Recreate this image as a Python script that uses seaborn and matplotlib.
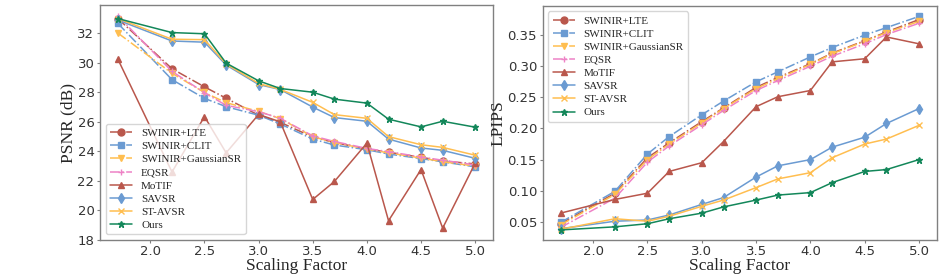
import matplotlib
matplotlib.use("Agg")
import matplotlib.pyplot as plt
import numpy as np
import pandas as pd
import seaborn as sns

scales = [1.7, 2.2, 2.5, 2.7, 3.0, 3.2, 3.5, 3.7, 4.0, 4.2, 4.5, 4.7, 5.0]
methods = ["SWINIR+LTE", "SWINIR+CLIT", "SWINIR+GaussianSR", "EQSR",
           "MoTIF", "SAVSR", "ST-AVSR", "Ours"]

# PSNR (dB)
psnr_lte = [33.0, 29.6, 28.37, 27.6, 26.45, 25.97, 24.97, 24.6, 24.16, 23.94, 23.6, 23.35, 23.15]
psnr_clit = [32.67, 28.86, 27.59, 27.03, 26.45, 25.86, 24.83, 24.43, 24.11, 23.82, 23.51, 23.29, 22.95]
psnr_gauss = [32.02, 29.29, 27.99, 27.3, 26.71, 26.22, 25.0, 24.6, 24.15, 23.9, 23.55, 23.3, 23.0]
psnr_eqsr = [33.18, 29.42, 27.97, 27.12, 26.69, 26.24, 25.05, 24.67, 24.2, 23.98, 23.62, 23.4, 23.08]
psnr_motif = [30.25, 22.6, 26.36, 23.9, 26.5, 26.0, 20.74, 21.96, 24.56, 19.3, 22.77, 18.8, 23.2]
psnr_savsr = [32.9, 31.48, 31.4, 29.85, 28.53, 28.19, 27.0, 26.29, 26.04, 24.83, 24.23, 24.07, 23.53]
psnr_stavsr = [33.0, 31.6, 31.57, 29.92, 28.6, 28.2, 27.32, 26.49, 26.24, 25.0, 24.45, 24.27, 23.74]
psnr_ours = [33.0, 32.05, 31.97, 29.98, 28.78, 28.26, 28.01, 27.54, 27.27, 26.18, 25.66, 26.04, 25.64]

# LPIPS
lpips_lte = [0.047, 0.096, 0.153, 0.177, 0.211, 0.233, 0.266, 0.282, 0.304, 0.321, 0.341, 0.355, 0.375]
lpips_clit = [0.049, 0.099, 0.159, 0.187, 0.222, 0.244, 0.275, 0.291, 0.315, 0.330, 0.350, 0.362, 0.380]
lpips_gauss = [0.045, 0.094, 0.150, 0.175, 0.209, 0.232, 0.264, 0.280, 0.303, 0.320, 0.340, 0.354, 0.372]
lpips_eqsr = [0.041, 0.088, 0.146, 0.172, 0.206, 0.229, 0.261, 0.277, 0.300, 0.316, 0.336, 0.351, 0.369]
lpips_motif = [0.064, 0.086, 0.096, 0.131, 0.145, 0.179, 0.235, 0.251, 0.261, 0.307, 0.312, 0.347, 0.336]
lpips_savsr = [0.039, 0.051, 0.053, 0.061, 0.078, 0.089, 0.122, 0.140, 0.150, 0.170, 0.186, 0.208, 0.232]
lpips_stavsr = [0.038, 0.055, 0.051, 0.059, 0.075, 0.085, 0.105, 0.119, 0.129, 0.153, 0.175, 0.183, 0.205]
lpips_ours = [0.037, 0.042, 0.047, 0.055, 0.064, 0.074, 0.085, 0.093, 0.097, 0.113, 0.131, 0.134, 0.150]

red = "#b9574c"
blue = "#6b9bd2"
yellow = "#ffbe50"
pink = "#ee82c6"
green = "#13875a"

styles = {
    "SWINIR+LTE": dict(color=red, marker="o", linestyle="-."),
    "SWINIR+CLIT": dict(color=blue, marker="s", linestyle="-."),
    "SWINIR+GaussianSR": dict(color=yellow, marker="v", linestyle="-."),
    "EQSR": dict(color=pink, marker="+", linestyle="-."),
    "MoTIF": dict(color=red, marker="^", linestyle="-"),
    "SAVSR": dict(color=blue, marker="d", linestyle="-"),
    "ST-AVSR": dict(color=yellow, marker="x", linestyle="-"),
    "Ours": dict(color=green, marker="*", linestyle="-"),
}

psnr = [psnr_lte, psnr_clit, psnr_gauss, psnr_eqsr, psnr_motif, psnr_savsr, psnr_stavsr, psnr_ours]
lpips = [lpips_lte, lpips_clit, lpips_gauss, lpips_eqsr, lpips_motif, lpips_savsr, lpips_stavsr, lpips_ours]

sns.set_style("ticks", {"axes.edgecolor": "#808080", "xtick.color": "#333333", "ytick.color": "#333333"})
plt.rcParams["font.family"] = ["DejaVu Sans"]

fig = plt.figure(figsize=(9.47, 2.78), dpi=100)
ax1 = fig.add_axes([0.1056, 0.137, 0.415, 0.844])
ax2 = fig.add_axes([0.573, 0.137, 0.4164, 0.842])

serif = ["Liberation Serif", "DejaVu Serif"]


def draw_panel(ax, values, ylabel, legend_loc):
    for name, vals in zip(methods, values):
        df = pd.DataFrame({"scale": scales, "value": vals})
        st = styles[name]
        sns.lineplot(data=df, x="scale", y="value", ax=ax, color=st["color"],
                     marker=st["marker"], linestyle=st["linestyle"], linewidth=1.1,
                     markersize=5, markeredgewidth=1.0, markeredgecolor=st["color"],
                     label=name)
    ax.set_xlabel("Scaling Factor", fontsize=12.5, family=serif, labelpad=0)
    ax.set_ylabel(ylabel, fontsize=12.5, family=serif, labelpad=1)
    ax.tick_params(labelsize=9.5, length=2, pad=2, color="#808080")
    ax.set_xticks([2.0, 2.5, 3.0, 3.5, 4.0, 4.5, 5.0])
    leg = ax.legend(loc=legend_loc, prop={"family": serif, "size": 8},
                    labelspacing=0.3, handlelength=2.0, borderpad=0.4,
                    fancybox=True, framealpha=0.8)
    leg.get_frame().set_edgecolor("#cccccc")
    for s in ax.spines.values():
        s.set_linewidth(1.0)


draw_panel(ax1, psnr, "PSNR (dB)", "lower left")
ax1.set_ylim(18, 33.9)
ax1.set_yticks([18, 20, 22, 24, 26, 28, 30, 32])

draw_panel(ax2, lpips, "LPIPS", "upper left")
ax2.set_ylim(0.021, 0.397)
ax2.set_yticks([0.05, 0.10, 0.15, 0.20, 0.25, 0.30, 0.35])

fig.savefig("out.png", dpi=100)
